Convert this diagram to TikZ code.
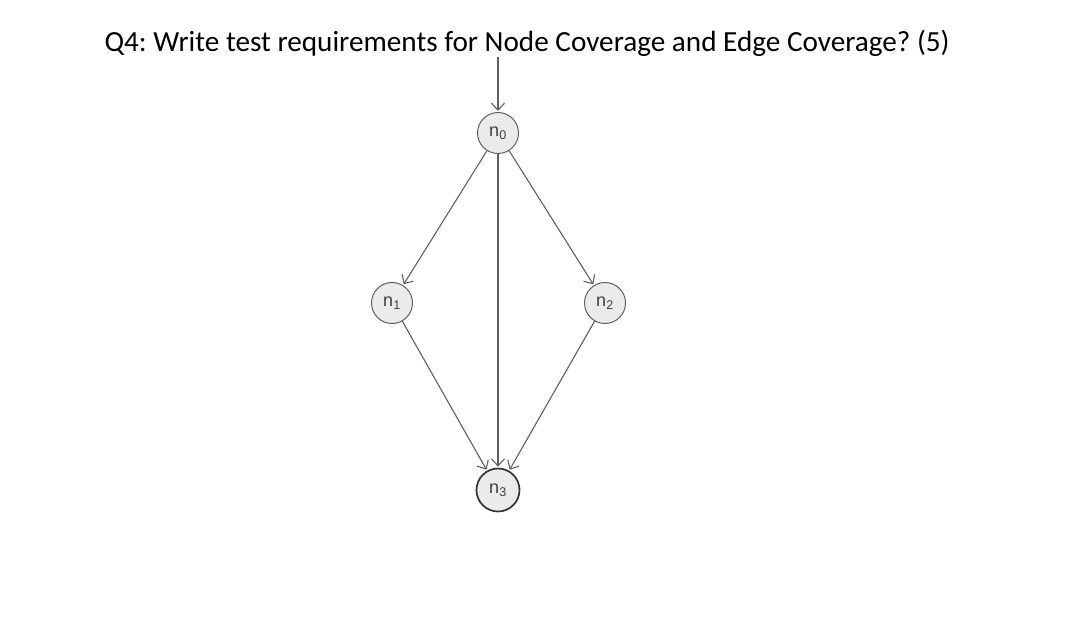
\documentclass[tikz,border=0pt]{standalone}
\usepackage{fontspec}
\setmainfont{Carlito}
\newfontfamily\labelfont{Liberation Sans}
\usetikzlibrary{arrows,arrows.meta,positioning}
\definecolor{nodefill}{HTML}{EBEBEB}
\definecolor{edgegray}{HTML}{606060}
\tikzstyle{state}=[circle, draw=edgegray, fill=nodefill, text=black!75,
		minimum size=41pt, inner sep=0pt, line width=1pt,
		font=\labelfont\fontsize{18}{18}\selectfont]
\tikzstyle{final}=[state, draw=black!80, line width=1.7pt, minimum size=43pt]
\tikzstyle{trans}=[-{Straight Barb[length=7pt,width=13pt]}, draw=edgegray,
		line width=1.1pt, shorten >=1pt]

\begin{document}
\frenchspacing
\begin{tikzpicture}[x=1pt, y=-1pt]

  \useasboundingbox (0,0) rectangle (1080,622);

  \node (title) [anchor=west, font=\fontsize{29.2}{29.2}\selectfont] at (101,43)
    {Q4: Write test requirements for Node Coverage and Edge Coverage? (5)};

  \node (N0) [state] at (498,133) {n\textsubscript{0}};
  \node (N1) [state] at (392,303) {n\textsubscript{1}};
  \node (N2) [state] at (605,303) {n\textsubscript{2}};
  \node (N3) [final] at (498,490) {n\textsubscript{3}};

  \coordinate (start) at (498,57);

  \draw [trans] (start) -- (N0);
  \draw [trans] (N0) -- (N1);
  \draw [trans] (N0) -- (N2);
  \draw [trans] (N0) -- (N3);
  \draw [trans] (N1) -- (N3);
  \draw [trans] (N2) -- (N3);

\end{tikzpicture}
\end{document}
